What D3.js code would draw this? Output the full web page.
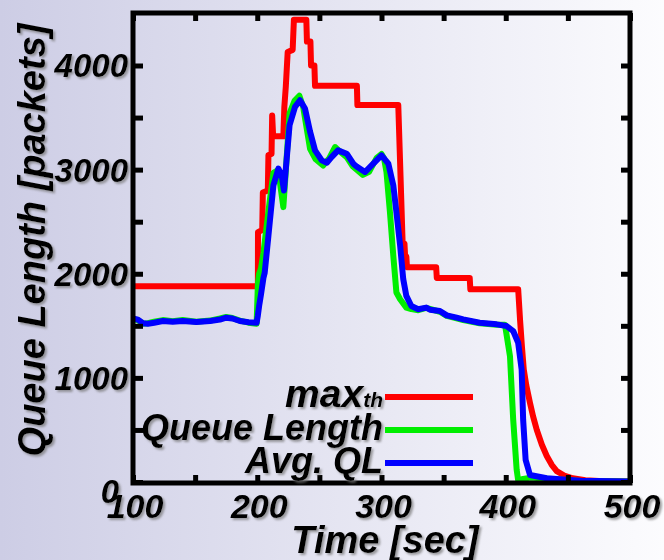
<!DOCTYPE html>
<html>
<head>
<meta charset="utf-8">
<script src="https://cdn.jsdelivr.net/npm/d3@7"></script>
<style>
  html, body { margin: 0; padding: 0; }
  svg { display: block; font-family: "Liberation Sans", Arial, sans-serif; font-weight: bold; font-style: italic; }
</style>
</head>
<body>
<div id="container"><svg></svg></div>
<script>
let width = 664, height = 560;

// series: [time (sec), packets]
let maxth = [[100,1880],[200.5,1880],[200.6,2400],[204,2420],[204.5,2780],[208.5,2800],[209,3140],[211.5,3150],[212,3520],[212.8,3320],[221,3320],[221.8,3600],[223,3800],[224.5,4130],[228.5,4150],[229.5,4440],[239.5,4440],[240,4230],[242.8,4230],[243.3,4000],[246,4000],[246.5,3805],[280.2,3805],[280.6,3620],[313.5,3620],[317,2300],[318.5,2290],[319,2170],[320,2165],[320.5,2063],[344,2063],[344.5,1960],[371,1960],[371.5,1851],[410,1851],[411.5,1560],[413,1305],[414.5,1080],[416.5,930],[419.5,760],[422,630],[425,500],[429,360],[433,250],[437,165],[441,105],[447,62],[454,36],[464,18],[475,10],[500,4]];

let queue_len = [[100,1560],[104,1555],[108,1520],[112,1525],[117,1540],[124,1555],[132,1545],[140,1555],[151,1540],[162,1550],[170,1570],[175,1585],[180,1575],[186,1550],[193,1530],[199.5,1520],[200.5,1900],[201.5,2000],[203,2050],[205,2200],[209,2600],[213,2970],[216,2990],[218,2900],[221,2640],[222.5,2900],[226,3540],[230,3660],[233.9,3710],[237,3600],[242.5,3200],[247,3100],[253,3040],[258,3110],[262.6,3217],[266,3180],[272,3120],[277,3030],[285,2950],[290,2980],[296,3110],[300,3150],[302,3110],[304,2977],[306.8,2591],[309.5,2173],[312,1820],[315,1755],[320,1675],[324,1660],[329.6,1650],[336,1672],[347,1635],[352.5,1595],[360.5,1572],[365.8,1555],[379,1525],[392.7,1510],[399.4,1510],[403.4,1208],[406,598],[408.8,116],[410,15],[414,30],[420,42],[433,32],[460,10],[500,4]];

let avg_ql = [[100,1570],[104,1560],[108,1525],[112,1520],[117,1530],[124,1546],[132,1540],[140,1546],[151,1536],[162,1546],[170,1560],[175,1578],[180,1570],[186,1546],[193,1535],[199.5,1530],[200.5,1600],[201.5,1690],[203,1800],[205,1960],[206,2010],[209,2365],[213,2848],[217,3009],[219.7,2944],[221.5,2800],[223.7,3105],[226,3426],[230.4,3603],[234.4,3667],[238.4,3587],[242.5,3365],[246.5,3185],[251.9,3089],[256,3066],[260,3122],[265,3185],[272,3153],[277.3,3057],[280,3030],[286.7,2977],[293.4,3057],[300,3137],[305.5,3057],[309.5,2848],[312,2591],[315,2270],[317.5,1948],[320,1787],[324,1690],[329.6,1659],[336,1675],[339,1655],[347,1642],[352.5,1600],[360.5,1578],[365.8,1562],[379,1530],[392.7,1514],[400.7,1498],[406,1450],[410,1337],[412.8,1080],[414,598],[416,212],[419.5,67],[433,36],[460,12],[500,5]];

let series_names = ['max', 'Queue Length', 'Avg. QL'];
let series_colors = ['#ff0000', '#00ee00', '#0000ff'];

let x_ticks = d3.range(100, 501, 50);
let x_labels = [100, 200, 300, 400, 500];
let y_ticks = d3.range(0, 4001, 500);
let y_labels = [1000, 2000, 3000, 4000];

let lmargin = 133, rmargin = 630, umargin = 13, dmargin = 483;

function draw() {
    let svg = d3.select('#container').select('svg')
        .attr('width', width)
        .attr('height', height);

    let defs = svg.append('defs');
    let grad = defs.append('linearGradient').attr('id', 'bg').attr('x1', 0).attr('x2', 1).attr('y1', 0).attr('y2', 0);
    grad.append('stop').attr('offset', 0).attr('stop-color', '#cdcde5');
    grad.append('stop').attr('offset', 1).attr('stop-color', '#fcfcfe');
    let shadow = defs.append('filter').attr('id', 'shadow').attr('x', '-10%').attr('y', '-10%').attr('width', '130%').attr('height', '130%');
    shadow.append('feDropShadow').attr('dx', 2).attr('dy', 2).attr('stdDeviation', 1.2).attr('flood-color', '#777').attr('flood-opacity', 0.7);

    svg.append('rect').attr('width', width).attr('height', height).attr('fill', 'url(#bg)');

    let x = d3.scaleLinear().domain([100, 500]).range([lmargin, rmargin]);
    let y = d3.scaleLinear().domain([0, 4000]).range([482, 65.5]);

    // lines
    let line = d3.line().x(d => x(d[0])).y(d => y(d[1]));
    [maxth, queue_len, avg_ql].forEach((data, i) => {
        svg.append('path')
            .datum(data)
            .attr('fill', 'none')
            .attr('stroke', series_colors[i])
            .attr('stroke-width', 6)
            .attr('stroke-linejoin', 'round')
            .attr('d', line);
    });

    // ticks (inward)
    let tickstyle = g => {
        g.select('.domain').remove();
        g.selectAll('.tick line').attr('stroke', '#000').attr('stroke-width', 5);
        g.selectAll('.tick text').remove();
    };
    svg.append('g').attr('transform', `translate(0,${dmargin})`)
        .call(d3.axisBottom(x).tickValues(x_ticks).tickSize(-8)).call(tickstyle);
    svg.append('g').attr('transform', `translate(0,${umargin})`)
        .call(d3.axisTop(x).tickValues(x_ticks).tickSize(-8)).call(tickstyle);
    svg.append('g').attr('transform', `translate(${lmargin},0)`)
        .call(d3.axisLeft(y).tickValues(y_ticks).tickSize(-10)).call(tickstyle);
    svg.append('g').attr('transform', `translate(${rmargin},0)`)
        .call(d3.axisRight(y).tickValues(y_ticks).tickSize(-9)).call(tickstyle);

    // frame
    svg.append('rect')
        .attr('x', lmargin).attr('y', umargin)
        .attr('width', rmargin - lmargin).attr('height', dmargin - umargin)
        .attr('fill', 'none').attr('stroke', '#000').attr('stroke-width', 5);

    let txt = svg.append('g').attr('filter', 'url(#shadow)').attr('fill', '#000');

    // tick labels
    txt.append('text').attr('x', 119).attr('y', 491).attr('dy', '0.36em')
        .attr('text-anchor', 'end').attr('font-size', 33).text('0');
    txt.selectAll('.ylab').data(y_labels).join('text')
        .attr('x', 128).attr('y', d => y(d)).attr('dy', '0.36em')
        .attr('text-anchor', 'end').attr('font-size', 33).text(d => d);
    txt.selectAll('.xlab').data(x_labels).join('text')
        .attr('x', d => x(d) + 2).attr('y', 518)
        .attr('text-anchor', 'middle').attr('font-size', 34).text(d => d);

    // axis titles
    txt.append('text').attr('x', 385).attr('y', 553)
        .attr('text-anchor', 'middle').attr('font-size', 38).text('Time [sec]');
    txt.append('text').attr('transform', 'translate(45,240) rotate(-90)')
        .attr('text-anchor', 'middle').attr('font-size', 38).text('Queue Length [packets]');

    // legend
    let ly = [397, 430, 463];
    series_names.forEach((name, i) => {
        let t = txt.append('text').attr('x', 383).attr('y', ly[i] + 10)
            .attr('text-anchor', 'end').attr('font-size', i == 0 ? 39 : 36).text(name);
        if (i == 0) t.append('tspan').attr('font-size', 21).text('th');
        svg.append('line')
            .attr('x1', 385).attr('x2', 473).attr('y1', ly[i]).attr('y2', ly[i])
            .attr('stroke', series_colors[i]).attr('stroke-width', 6);
    });
}

draw();
</script>
</body>
</html>
